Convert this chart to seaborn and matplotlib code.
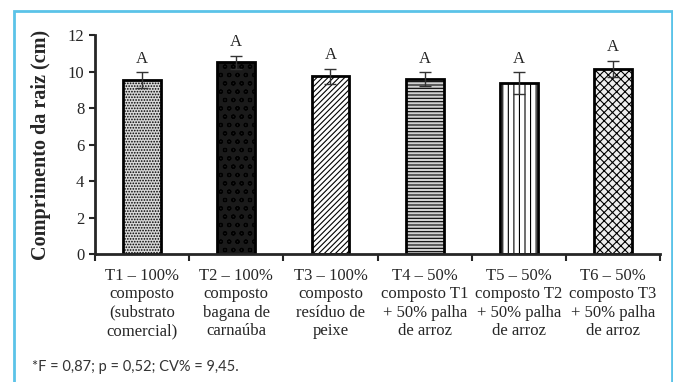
import matplotlib
matplotlib.use("Agg")
import matplotlib.pyplot as plt
import seaborn as sns
import pandas as pd
from matplotlib.patches import Rectangle
from matplotlib.ticker import FixedLocator

# data
labels = [
    "T1 – 100%\ncomposto\n(substrato\ncomercial)",
    "T2 – 100%\ncomposto\nbagana de\ncarnaúba",
    "T3 – 100%\ncomposto\nresíduo de\npeixe",
    "T4 – 50%\ncomposto T1\n+ 50% palha\nde arroz",
    "T5 – 50%\ncomposto T2\n+ 50% palha\nde arroz",
    "T6 – 50%\ncomposto T3\n+ 50% palha\nde arroz",
]
means = [9.53, 10.52, 9.75, 9.59, 9.37, 10.14]
errors = [0.45, 0.35, 0.42, 0.38, 0.6, 0.45]
letters = ["A", "A", "A", "A", "A", "A"]
hatches = ["......", "oo", "//////", "-----", "|||", "xxxx"]
facecolors = ["#d8d8d8", "#1a1a1a", "white", "#d0d0d0", "white", "#eeeeee"]

sns.set_style("ticks")
plt.rcParams["font.family"] = ["Liberation Serif", "DejaVu Serif"]
plt.rcParams["hatch.linewidth"] = 0.8

df = pd.DataFrame({"trat": labels, "comp": means})

fig = plt.figure(figsize=(6.73, 3.82), dpi=100)
ax = fig.add_axes([0.141, 0.335, 0.840, 0.573])

sns.barplot(data=df, x="trat", y="comp", width=0.4, color="white",
            edgecolor="black", linewidth=2, errorbar=None, ax=ax)

for i, bar in enumerate(ax.patches):
    bar.set_facecolor(facecolors[i])
    bar.set_hatch(hatches[i])

ax.errorbar(range(len(means)), means, yerr=errors, fmt="none",
            ecolor="#333333", elinewidth=1, capsize=4, capthick=1)

for i, (m, e, l) in enumerate(zip(means, errors, letters)):
    ax.text(i, m + e + 0.3, l, ha="center", va="bottom", fontsize=12)

ax.set_ylim(0, 12)
ax.set_xlim(-0.5, 5.5)
ax.set_yticks(range(0, 13, 2))
ax.set_xlabel("")
ax.set_ylabel("Comprimento da raiz (cm)", fontsize=14.5, fontweight="bold",
              labelpad=12)
ax.tick_params(axis="x", which="major", length=0, labelsize=12, pad=10)
ax.tick_params(axis="y", labelsize=12, width=1.5, length=4)
ax.xaxis.set_minor_locator(FixedLocator([i - 0.5 for i in range(7)]))
ax.tick_params(axis="x", which="minor", length=5, width=1.5, direction="out")
for t in ax.get_xticklabels():
    t.set_linespacing(1.2)

for side in ["left", "bottom"]:
    ax.spines[side].set_linewidth(2)
sns.despine(ax=ax)

# blue frame around the figure
fig.patches.append(Rectangle((14 / 673, -0.1), (672 - 14) / 673, 1.1 - 11 / 382,
                             transform=fig.transFigure, fill=False,
                             edgecolor="#5bc3e8", linewidth=2))

fig.text(32 / 673, 1 - 367 / 382, "*F = 0,87; p = 0,52; CV% = 9,45.",
         family=["Lato", "DejaVu Sans"], fontsize=10.5,
         color="#333333", va="center")

plt.savefig("out.png", dpi=100)
plt.close()
